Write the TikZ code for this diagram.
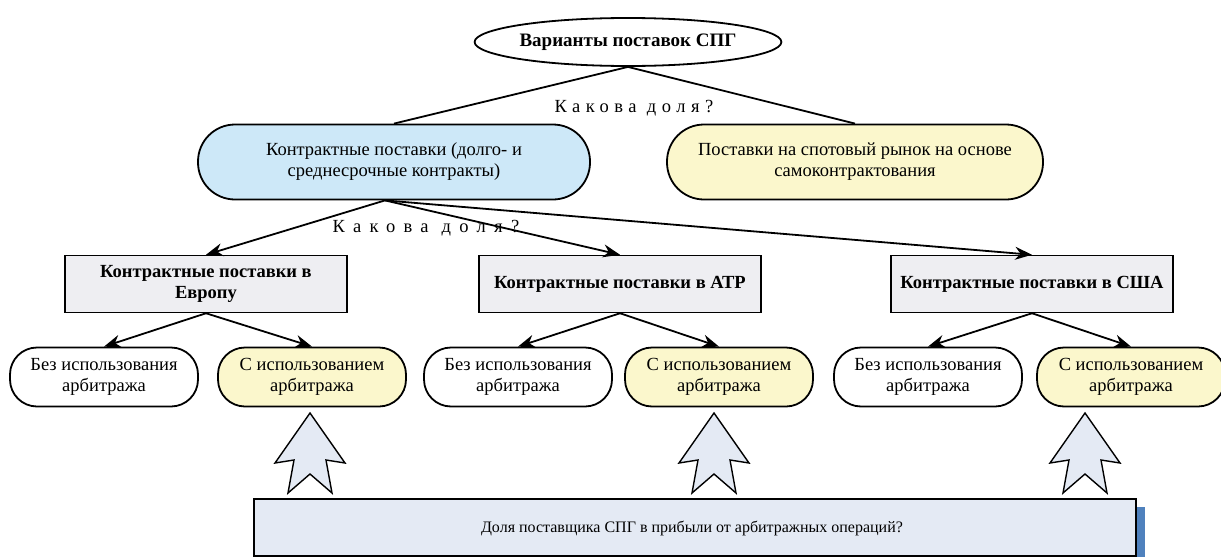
\documentclass[tikz,border=0pt]{standalone}
\usepackage{fontspec}
\setmainfont{Liberation Serif}
\usetikzlibrary{arrows.meta,shapes.geometric}
\definecolor{cblue}{HTML}{CDE8F8}
\definecolor{cyellow}{HTML}{FBF7CC}
\definecolor{cgray}{HTML}{EEEEF2}
\definecolor{cbar}{HTML}{E4EAF4}
\definecolor{cshadow}{HTML}{4F81BD}
\begin{document}
\begin{tikzpicture}[x=1pt,y=-1pt,
  every node/.style={font=\fontsize{18.5}{21}\selectfont, align=center, inner sep=0pt},
  topell/.style={draw, ellipse, line width=1.8pt, minimum width=292, minimum height=48, font=\fontsize{19}{22}\selectfont\bfseries},
  bignode/.style={draw, line width=1.8pt, rounded corners=37, minimum width=392, minimum height=75},
  regbox/.style={draw, line width=1.5pt, fill=cgray, minimum width=282, minimum height=57, font=\fontsize{18.5}{21}\selectfont\bfseries},
  leaf/.style={draw, line width=1.8pt, rounded corners=27, minimum width=188, minimum height=59},
  conn/.style={line width=1.8pt},
  arr/.style={line width=1.8pt, -{Stealth[length=17pt,width=13pt]}},
  blockarrow/.style={draw, line width=1.4pt, fill=cbar},
  spaced/.style={font=\fontsize{18.5}{21}\selectfont\addfontfeature{LetterSpace=#1}}
]
\useasboundingbox (0,0) rectangle (1221,557);
\fill[white] (0,0) rectangle (1221,557);

\node[topell] (top) at (628,42) {Варианты поставок СПГ};
\node[bignode, fill=cblue] (contract) at (394,162) {Контрактные поставки (долго- и\\среднесрочные контракты)};
\node[bignode, fill=cyellow, minimum width=376] (spot) at (855,162) {Поставки на спотовый рынок на основе\\самоконтрактования};

\draw[conn] (top.south) -- (contract.north);
\draw[conn] (top.south) -- (spot.north);
\node[spaced=30] (q1) at (634,108) {Какова доля?};

\node[regbox] (eu) at (206,284) {Контрактные поставки в\\Европу};
\node[regbox] (atr) at (620,284) {Контрактные поставки в АТР};
\node[regbox] (usa) at (1032,284) {Контрактные поставки в США};

\coordinate (cs) at ([xshift=-9pt]contract.south);
\draw[arr] (cs) -- (eu.north);
\draw[arr] (cs) -- (atr.north);
\draw[arr] (cs) -- (usa.north);
\node[spaced=45] (q2) at (426,228) {Какова доля?};

\node[leaf] (eu1) at (104,377) {Без использования\\арбитража};
\node[leaf, fill=cyellow] (eu2) at (312,377) {С использованием\\арбитража};
\node[leaf] (atr1) at (518,377) {Без использования\\арбитража};
\node[leaf, fill=cyellow] (atr2) at (719,377) {С использованием\\арбитража};
\node[leaf] (usa1) at (928,377) {Без использования\\арбитража};
\node[leaf, fill=cyellow] (usa2) at (1131,377) {С использованием\\арбитража};

\draw[arr] (eu.south) -- (eu1.north);
\draw[arr] (eu.south) -- (eu2.north);
\draw[arr] (atr.south) -- (atr1.north);
\draw[arr] (atr.south) -- (atr2.north);
\draw[arr] (usa.south) -- (usa1.north);
\draw[arr] (usa.south) -- (usa2.north);

% block up-arrows
\foreach \cx in {310,714,1085}{
  \draw[blockarrow] (\cx,413) -- ++(-35,50) -- ++(19,-3) -- ++(-6,33) -- ++(22,-19) -- ++(22,19) -- ++(-6,-33) -- ++(19,3) -- cycle;
}

% bottom bar with shadow
\fill[cshadow] (1130,507) rectangle (1145,557);
\node[draw, line width=1.5pt, fill=cbar, minimum width=882, minimum height=57] (bar) at (695,527.5) {};
\node[font=\fontsize{16}{19}\selectfont] (bartext) at (692,528) {Доля поставщика СПГ в прибыли от арбитражных операций?};
\end{tikzpicture}
\end{document}
